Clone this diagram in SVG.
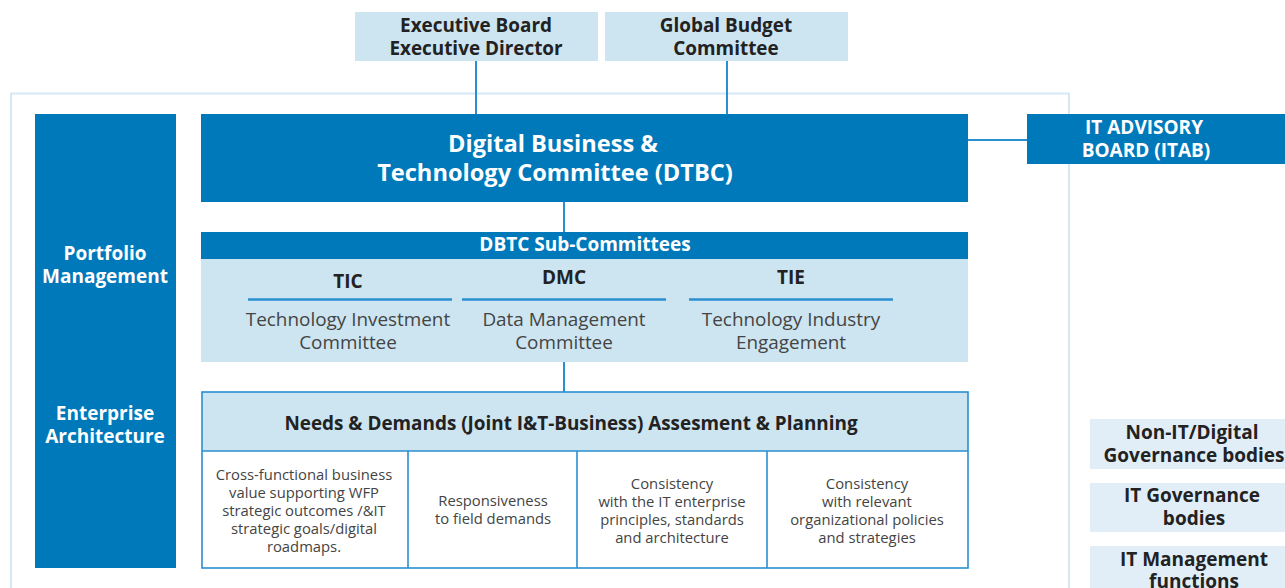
<svg xmlns="http://www.w3.org/2000/svg" width="1285" height="588" viewBox="0 0 1285 588">
<style>
text{font-family:"Open Sans","Noto Sans","Liberation Sans",sans-serif;text-anchor:middle}
.b{font-weight:700}
.w{fill:#ffffff}
.d{fill:#222222}
.g{fill:#444444}
.dark{fill:#0079ba}
.light{fill:#cde4f1}
.pale{fill:#e1eef8}
.con{stroke:#2a8fd0;stroke-width:2;fill:none}
.tbl{stroke:#2a8fd0;stroke-width:1.6;fill:none}
</style>
<rect x="11" y="93.5" width="1058" height="520" fill="none" stroke="#d6e8f4" stroke-width="2"/>
<g id="connectors">
<line class="con" x1="476" y1="61" x2="476" y2="114"/>
<line class="con" x1="727" y1="61" x2="727" y2="114"/>
<line class="con" x1="968" y1="140" x2="1027" y2="140"/>
<line class="con" x1="564" y1="202" x2="564" y2="232"/>
<line class="con" x1="564" y1="362" x2="564" y2="392"/>
</g>
<g id="exec-board">
<rect class="light" x="355" y="12" width="243" height="49"/>
<text class="b d" x="476" y="32" font-size="18.9">Executive Board</text>
<text class="b d" x="476" y="55" font-size="18.9">Executive Director</text>
</g>
<g id="global-budget">
<rect class="light" x="605" y="12" width="243" height="49"/>
<text class="b d" x="726" y="32" font-size="18.9">Global Budget</text>
<text class="b d" x="726" y="55" font-size="18.9">Committee</text>
</g>
<g id="left-column">
<rect class="dark" x="35" y="114" width="141" height="454"/>
<text class="b w" x="105" y="260" font-size="19">Portfolio</text>
<text class="b w" x="105" y="283" font-size="19">Management</text>
<text class="b w" x="105" y="420" font-size="19">Enterprise</text>
<text class="b w" x="105" y="443" font-size="19">Architecture</text>
</g>
<g id="dtbc">
<rect class="dark" x="201" y="114" width="767" height="88"/>
<text class="b w" x="553" y="152" font-size="23.6">Digital Business &amp;</text>
<text class="b w" x="555" y="181" font-size="23.6">Technology Committee (DTBC)</text>
</g>
<g id="itab">
<rect class="dark" x="1027" y="114" width="258" height="50"/>
<text class="b w" x="1144" y="134" font-size="19">IT ADVISORY</text>
<text class="b w" x="1146" y="157" font-size="19">BOARD (ITAB)</text>
</g>
<g id="subcommittees">
<rect class="dark" x="201" y="232" width="767" height="27"/>
<rect class="light" x="201" y="259" width="767" height="103"/>
<text class="b w" x="585" y="251" font-size="19">DBTC Sub-Committees</text>
<text class="b d" x="348" y="288" font-size="19">TIC</text>
<text class="b d" x="564" y="284" font-size="19">DMC</text>
<text class="b d" x="791" y="284" font-size="19">TIE</text>
<line x1="248" y1="299.5" x2="452" y2="299.5" stroke="#2a8fd0" stroke-width="2.5"/>
<line x1="462" y1="299.5" x2="666" y2="299.5" stroke="#2a8fd0" stroke-width="2.5"/>
<line x1="689" y1="299.5" x2="893" y2="299.5" stroke="#2a8fd0" stroke-width="2.5"/>
<text class="g" x="348" y="326" font-size="18.9">Technology Investment</text>
<text class="g" x="348" y="349" font-size="18.9">Committee</text>
<text class="g" x="564" y="326" font-size="18.9">Data Management</text>
<text class="g" x="564" y="349" font-size="18.9">Committee</text>
<text class="g" x="791" y="326" font-size="18.9">Technology Industry</text>
<text class="g" x="791" y="349" font-size="18.9">Engagement</text>
</g>
<g id="needs">
<rect class="light" x="202" y="392" width="766" height="59"/>
<rect class="tbl" x="202" y="392" width="766" height="176"/>
<line class="tbl" x1="202" y1="451" x2="968" y2="451"/>
<line class="tbl" x1="408" y1="451" x2="408" y2="568"/>
<line class="tbl" x1="577" y1="451" x2="577" y2="568"/>
<line class="tbl" x1="767" y1="451" x2="767" y2="568"/>
<text class="b d" x="571" y="430" font-size="18.9">Needs &amp; Demands (Joint I&amp;T-Business) Assesment &amp; Planning</text>
<g font-size="14.8">
<text class="g" x="304" y="480">Cross-functional business</text>
<text class="g" x="304" y="498">value supporting WFP</text>
<text class="g" x="304" y="516">strategic outcomes /&amp;IT</text>
<text class="g" x="304" y="534">strategic goals/digital</text>
<text class="g" x="304" y="552">roadmaps.</text>
<text class="g" x="493" y="506">Responsiveness</text>
<text class="g" x="493" y="524">to field demands</text>
<text class="g" x="672" y="489">Consistency</text>
<text class="g" x="672" y="507">with the IT enterprise</text>
<text class="g" x="672" y="525">principles, standards</text>
<text class="g" x="672" y="543">and architecture</text>
<text class="g" x="867" y="489">Consistency</text>
<text class="g" x="867" y="507">with relevant</text>
<text class="g" x="867" y="525">organizational policies</text>
<text class="g" x="867" y="543">and strategies</text>
</g>
</g>
<g id="legend-non-it">
<rect class="pale" x="1090" y="419" width="195" height="50"/>
<text class="b d" x="1192" y="439" font-size="19">Non-IT/Digital</text>
<text class="b d" x="1194" y="462" font-size="19">Governance bodies</text>
</g>
<g id="legend-it-gov">
<rect class="pale" x="1090" y="483" width="195" height="49"/>
<text class="b d" x="1192" y="502" font-size="19">IT Governance</text>
<text class="b d" x="1194" y="525" font-size="19">bodies</text>
</g>
<g id="legend-it-mgmt">
<rect class="pale" x="1090" y="546" width="195" height="50"/>
<text class="b d" x="1194" y="566" font-size="19">IT Management</text>
<text class="b d" x="1194" y="588" font-size="19">functions</text>
</g>
</svg>
